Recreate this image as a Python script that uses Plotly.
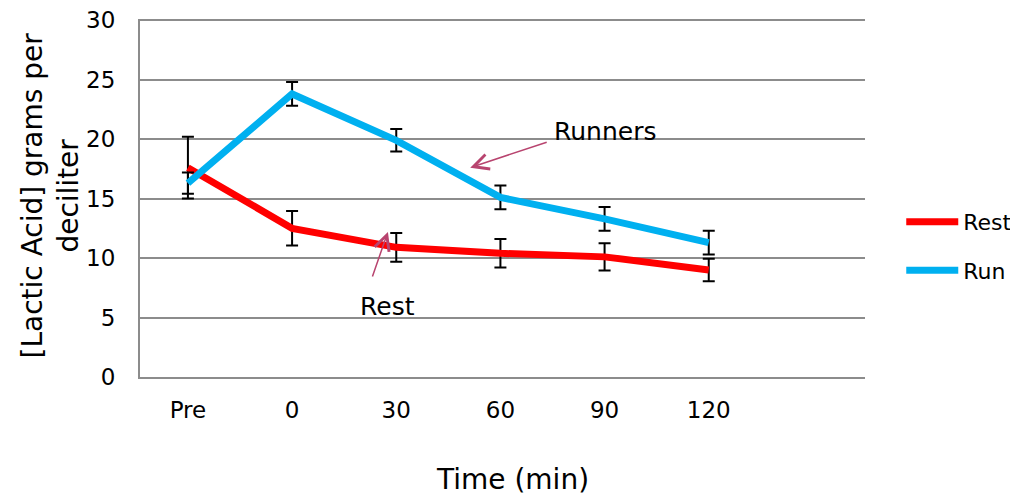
import plotly.graph_objects as go

categories = ["Pre", "0", "30", "60", "90", "120"]
rest = [17.6, 12.5, 10.9, 10.4, 10.1, 9.0]
rest_err = [2.6, 1.45, 1.2, 1.2, 1.15, 0.95]
run = [16.3, 23.8, 19.9, 15.1, 13.3, 11.3]
run_err = [0.9, 1.0, 0.95, 1.0, 1.0, 1.0]
y_ticks = [0, 5, 10, 15, 20, 25, 30]

FONT = "DejaVu Sans"
arrow_col = "#b8446f"

fig = go.Figure()
fig.add_trace(go.Scatter(
    x=categories, y=rest, name="Rest", mode="lines", legendgroup="a",
    line=dict(color="#ff0000", width=7),
    error_y=dict(type="data", array=rest_err, visible=True,
                 color="black", thickness=2, width=6),
))
fig.add_trace(go.Scatter(
    x=categories, y=run, name="Run", mode="lines", legendgroup="b",
    line=dict(color="#00b0f0", width=7),
    error_y=dict(type="data", array=run_err, visible=True,
                 color="black", thickness=2, width=6),
))

fig.add_annotation(x=2.71, y=17.6, xref="x", yref="y", text="",
                   showarrow=True, ax=78, ay=-26, arrowhead=5, arrowsize=2,
                   arrowwidth=1.5, arrowcolor=arrow_col)
fig.add_annotation(x=4.0, y=20.6, xref="x", yref="y", text="Runners",
                   showarrow=False, font=dict(size=25, color="black", family=FONT))
fig.add_annotation(x=1.92, y=12.2, xref="x", yref="y", text="",
                   showarrow=True, ax=-16, ay=46, arrowhead=5, arrowsize=2,
                   arrowwidth=1.5, arrowcolor=arrow_col)
fig.add_annotation(x=1.92, y=5.9, xref="x", yref="y", text="Rest",
                   showarrow=False, font=dict(size=25, color="black", family=FONT))

# axis titles
fig.add_annotation(x=(50 - 140) / 725, y=(377 - 196) / 357, xref="paper", yref="paper",
                   text="[Lactic Acid] grams per<br>deciliter", textangle=-90,
                   showarrow=False, xanchor="center", yanchor="middle",
                   font=dict(size=28, color="black", family=FONT))
fig.add_annotation(x=(512 - 140) / 725, y=(377 - 479) / 357, xref="paper", yref="paper",
                   text="Time (min)", showarrow=False, xanchor="center", yanchor="middle",
                   font=dict(size=28, color="black", family=FONT))

# page body has an 8px margin; compensate so the plot area lands at 140..865 x 20..377
fig.update_layout(
    width=1010, height=492,
    margin=dict(l=132, r=153, t=11, b=123, autoexpand=False),
    paper_bgcolor="white", plot_bgcolor="white",
    font=dict(family=FONT, color="black", size=23),
    showlegend=True,
    legend=dict(x=1.05, y=0.365, xanchor="left", yanchor="middle",
                font=dict(size=22, family=FONT), tracegroupgap=17,
                traceorder="grouped", itemwidth=52, bgcolor="rgba(0,0,0,0)"),
    xaxis=dict(
        type="category", range=[-0.46, 6.5], automargin=False,
        showgrid=False, showline=True, linecolor="#8c8c8c", linewidth=2,
        ticks="outside", ticklen=11, tickcolor="rgba(0,0,0,0)",
        tickfont=dict(size=23), zeroline=False,
    ),
    yaxis=dict(
        range=[0, 30.1], tickvals=y_ticks, automargin=False,
        showgrid=True, gridcolor="#8c8c8c", gridwidth=2,
        showline=True, linecolor="#8c8c8c", linewidth=2,
        ticks="outside", ticklen=18, tickcolor="rgba(0,0,0,0)",
        tickfont=dict(size=23), zeroline=False, ticklabeloverflow="allow",
    ),
)

fig.write_html("out.html")
